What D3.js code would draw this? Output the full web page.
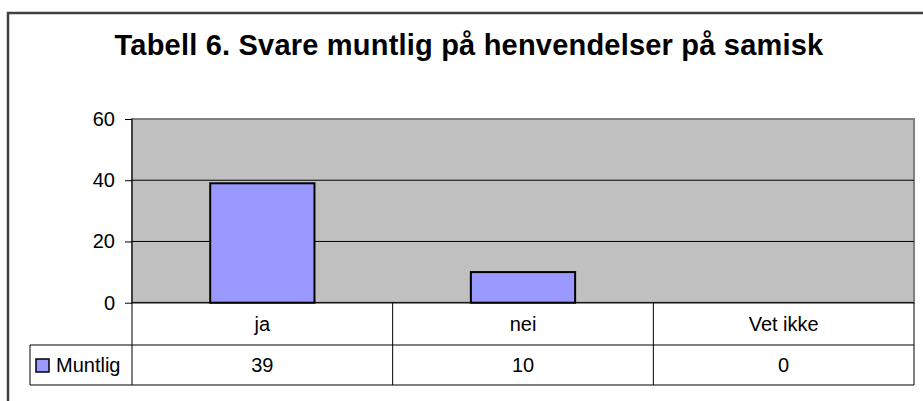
<!DOCTYPE html>
<html>
<head>
<meta charset="utf-8">
<script src="https://cdn.jsdelivr.net/npm/d3@7"></script>
<style>
  body { margin: 0; background: #fff; }
  text { font-family: "Liberation Sans", Arial, sans-serif; fill: #000; }
</style>
</head>
<body>
<div id="chart"></div>
<script>
var categories = ["ja", "nei", "Vet ikke"];
var seriesName = "Muntlig";
var values = [39, 10, 0];
var yTicks = [0, 20, 40, 60];
var title = "Tabell 6. Svare muntlig på henvendelser på samisk";

var width = 923, height = 401;
var plotLeft = 132, plotRight = 914, plotTop = 119, plotBottom = 302.7;
var row1 = 345, row2 = 385, legendLeft = 30;

var svg = d3.select("#chart").append("svg")
    .attr("width", width)
    .attr("height", height);

// outer chart frame (runs past the window on right and bottom)
svg.append("path")
    .attr("d", "M8," + (height + 5) + "V13H" + (width + 5))
    .attr("fill", "none")
    .attr("stroke", "#404040")
    .attr("stroke-width", 2.5);

svg.append("text")
    .text(title)
    .attr("x", 469)
    .attr("y", 55)
    .attr("text-anchor", "middle")
    .style("font-size", "29px")
    .style("letter-spacing", "0.2px")
    .style("font-weight", "bold");

var x = d3.scaleBand().domain(categories).range([plotLeft, plotRight]);
var y = d3.scaleLinear().domain([0, 60]).range([plotBottom, plotTop]);
var barW = x.bandwidth() / 2.5;

// plot area
svg.append("rect")
    .attr("x", plotLeft).attr("y", y(60))
    .attr("width", plotRight - plotLeft).attr("height", y(0) - y(60))
    .attr("fill", "#c0c0c0")
    .attr("stroke", "#808080")
    .attr("stroke-width", 2);

svg.selectAll(".grid")
    .data(yTicks.filter(function(d) { return d > 0 && d < 60; }))
    .enter().append("line")
    .attr("x1", plotLeft).attr("x2", plotRight)
    .attr("y1", function(d) { return y(d); })
    .attr("y2", function(d) { return y(d); })
    .attr("stroke", "#000")
    .attr("stroke-width", 1);

svg.selectAll(".bar")
    .data(values.map(function(v, i) { return {c: categories[i], v: v}; }).filter(function(d) { return d.v > 0; }))
    .enter().append("rect")
    .attr("x", function(d) { return x(d.c) + (x.bandwidth() - barW) / 2; })
    .attr("y", function(d) { return y(d.v); })
    .attr("width", barW)
    .attr("height", function(d) { return y(0) - y(d.v); })
    .attr("fill", "#9999ff")
    .attr("stroke", "#000")
    .attr("stroke-width", 2);

// y axis
var yAxis = d3.axisLeft(y).tickValues(yTicks).tickSize(7).tickPadding(10);
var gy = svg.append("g")
    .attr("transform", "translate(" + plotLeft + ",0)")
    .call(yAxis);
gy.select(".domain").remove();
gy.selectAll("line").attr("stroke", "#000");
gy.selectAll("text")
    .style("font-size", "20px")
    .style("font-family", "'Liberation Sans', Arial, sans-serif");

// data table
var tableColor = "#000";
svg.append("line")
    .attr("x1", plotLeft).attr("x2", plotLeft).attr("y1", plotTop).attr("y2", row2)
    .attr("stroke", tableColor);
svg.append("line")
    .attr("x1", plotLeft).attr("x2", plotRight).attr("y1", plotBottom).attr("y2", plotBottom)
    .attr("stroke", tableColor);
[row1, row2].forEach(function(r) {
  svg.append("line")
      .attr("x1", legendLeft).attr("x2", plotRight).attr("y1", r).attr("y2", r)
      .attr("stroke", tableColor);
});
svg.append("line")
    .attr("x1", legendLeft).attr("x2", legendLeft).attr("y1", row1).attr("y2", row2)
    .attr("stroke", tableColor);
svg.selectAll(".col")
    .data(categories)
    .enter().append("line")
    .attr("x1", function(d) { return x(d) + x.bandwidth(); })
    .attr("x2", function(d) { return x(d) + x.bandwidth(); })
    .attr("y1", plotBottom).attr("y2", row2)
    .attr("stroke", tableColor);

svg.selectAll(".cat")
    .data(categories)
    .enter().append("text")
    .text(function(d) { return d; })
    .attr("x", function(d) { return x(d) + x.bandwidth() / 2; })
    .attr("y", (plotBottom + row1) / 2)
    .attr("dy", "0.35em")
    .attr("text-anchor", "middle")
    .style("font-size", "20px");

svg.selectAll(".val")
    .data(values)
    .enter().append("text")
    .text(function(d) { return d; })
    .attr("x", function(d, i) { return x(categories[i]) + x.bandwidth() / 2; })
    .attr("y", (row1 + row2) / 2)
    .attr("dy", "0.35em")
    .attr("text-anchor", "middle")
    .style("font-size", "20px");

// legend key inside table
svg.append("rect")
    .attr("x", 36).attr("y", 359)
    .attr("width", 13).attr("height", 13)
    .attr("fill", "#9999ff")
    .attr("stroke", "#000")
    .attr("stroke-width", 1.5);
svg.append("text")
    .text(seriesName)
    .attr("x", 56)
    .attr("y", (row1 + row2) / 2)
    .attr("dy", "0.35em")
    .style("font-size", "20px");
</script>
</body>
</html>
